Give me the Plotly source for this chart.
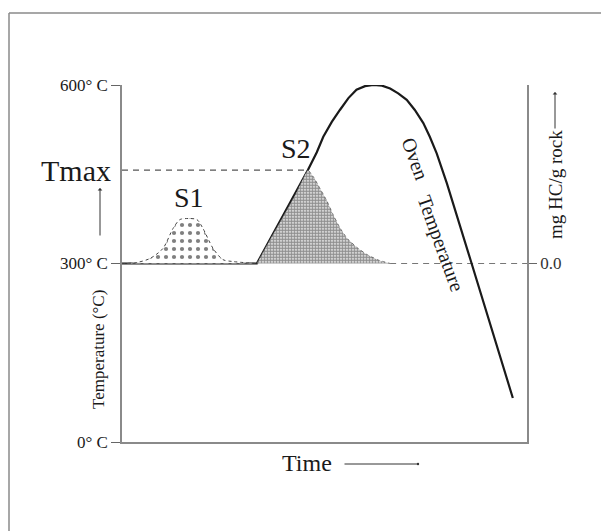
import plotly.graph_objects as go

time_oven = [0, 33.3, 45.9, 46.5, 48.1, 49.7, 51.8, 53.8, 55.9, 57.9, 60.0, 62.1,
             64.2, 66.2, 68.2, 70.3, 72.3, 74.4, 76.0, 77.7, 80.2, 86.1, 91.4, 96.5]
temp_oven = [300, 300, 457, 465, 487, 513, 538, 558, 578, 592, 598, 600,
             599, 594, 586, 575, 558, 536, 513, 485, 435, 305, 187, 74]

s1_time = [0, 3.5, 6.9, 10.1, 12.6, 14.3, 16.3, 18.5, 20.0, 22.5, 24.9, 27.4, 33.3]
s1_hc = [0, 0.05, 0.28, 0.84, 1.96, 2.46, 2.52, 2.46, 1.96, 0.84, 0.22, 0.11, 0]

s2_time = [33.3, 36.5, 39.8, 43.0, 45.9, 47.4, 48.9, 50.6, 52.1, 53.8, 55.6, 58.0, 60.5, 63.2, 66.2]
s2_hc = [0, 1.31, 2.63, 3.94, 5.23, 4.8, 4.2, 3.5, 2.75, 2.0, 1.4, 0.9, 0.5, 0.2, 0]

tmax_time = 45.9
tmax_temp = 457
baseline_temp = 300
time_end = 100

temp_ticks = [0, 300, 600]
temp_ticktext = ["0° C", "300° C", "600° C"]
hc_ticks = [0]
hc_ticktext = ["0.0"]

SERIF = "Liberation Serif, Times New Roman, serif"
INK = "#1a1a1a"
AXC = "#8a8a8a"

fig = go.Figure()

# S2 peak (dense stipple)
fig.add_trace(go.Scatter(
    x=s2_time, y=s2_hc, yaxis="y2", mode="lines",
    line=dict(color="#555", width=0.8, shape="spline", smoothing=0.4, dash="dot"),
    fill="tozeroy", fillcolor="rgba(0,0,0,0)",
    fillpattern=dict(shape=".", size=3, solidity=0.75, fgcolor="#222", bgcolor="white"),
    hoverinfo="skip", showlegend=False))

# S1 peak (sparse stipple)
fig.add_trace(go.Scatter(
    x=s1_time, y=s1_hc, yaxis="y2", mode="lines",
    line=dict(color="#444", width=1, shape="spline", smoothing=0.8, dash="dot"),
    fill="tozeroy", fillcolor="rgba(0,0,0,0)",
    fillpattern=dict(shape=".", size=8, solidity=0.22, fgcolor="#000", bgcolor="white"),
    hoverinfo="skip", showlegend=False))

# Tmax dashed guide
fig.add_trace(go.Scatter(
    x=[0, tmax_time], y=[tmax_temp, tmax_temp], mode="lines",
    line=dict(color="#555", width=1.2, dash="6px,5px"),
    hoverinfo="skip", showlegend=False))

# baseline dashed continuation to right axis
fig.add_trace(go.Scatter(
    x=[s2_time[-1], time_end], y=[baseline_temp, baseline_temp], mode="lines",
    line=dict(color="#777", width=1.2, dash="6px,5px"),
    hoverinfo="skip", showlegend=False))

# Oven temperature
fig.add_trace(go.Scatter(
    x=time_oven, y=temp_oven, mode="lines",
    line=dict(color=INK, width=2.2),
    hoverinfo="skip", showlegend=False))

# ---- layout ----
W, H = 601, 531
L, R, T, B = 122, 527, 85, 442


def px(x):
    return (x - L) / (R - L)


def py(y):
    return (B - y) / (B - T)


annotations = [
    dict(text="Tmax", x=px(113), y=py(170), xanchor="right",
         font=dict(family=SERIF, size=30, color=INK)),
    dict(text="", x=px(100), y=py(188), showarrow=True, ax=0, ay=49,
         arrowhead=1, arrowsize=0.8, arrowwidth=1, arrowcolor="#333"),
    dict(text="Temperature (°C)", x=px(98), y=py(350), textangle=-90,
         font=dict(family=SERIF, size=17, color=INK)),
    dict(text="S1", x=px(189), y=py(197), font=dict(family=SERIF, size=28, color=INK)),
    dict(text="S2", x=px(296), y=py(148), font=dict(family=SERIF, size=28, color=INK)),
    dict(text="Oven", x=px(415), y=py(158), textangle=70,
         font=dict(family=SERIF, size=20, color=INK)),
    dict(text="Temperature", x=px(441), y=py(243), textangle=70,
         font=dict(family=SERIF, size=20, color=INK)),
    dict(text="Time", x=px(307), y=py(463), font=dict(family=SERIF, size=24, color=INK)),
    dict(text="", x=px(418), y=py(464), showarrow=True, ax=-75, ay=0,
         arrowhead=6, arrowsize=0.6, arrowwidth=1, arrowcolor="#333"),
    dict(text="mg HC/g rock", x=px(555), y=py(185), textangle=-90,
         font=dict(family=SERIF, size=19, color=INK)),
    dict(text="", x=px(555), y=py(92), showarrow=True, ax=0, ay=38,
         arrowhead=1, arrowsize=0.8, arrowwidth=1, arrowcolor="#333"),
]
for a in annotations:
    a.setdefault("showarrow", False)
    a.setdefault("xanchor", "center")
    a.setdefault("yanchor", "middle")
    a["xref"] = "paper"
    a["yref"] = "paper"

shapes = [
    dict(type="line", xref="paper", yref="paper", x0=px(9), x1=px(640), y0=py(13), y1=py(13),
         line=dict(color="#8a8a8a", width=1.5)),
    dict(type="line", xref="paper", yref="paper", x0=px(9), x1=px(9), y0=py(13), y1=py(560),
         line=dict(color="#8a8a8a", width=1.5)),
]

fig.update_layout(
    width=W, height=H,
    margin=dict(l=L, r=W - R, t=T, b=H - B, pad=0),
    paper_bgcolor="white", plot_bgcolor="white",
    font=dict(family=SERIF, size=15, color=INK),
    showlegend=False,
    xaxis=dict(range=[0, time_end], showline=True, linecolor=AXC, linewidth=1.5,
               showticklabels=False, ticks="", showgrid=False, zeroline=False, fixedrange=True),
    yaxis=dict(range=[0, 600], showline=True, linecolor=AXC, linewidth=1.5,
               tickvals=temp_ticks, ticktext=temp_ticktext, ticks="outside", ticklen=9,
               tickcolor="#666", tickwidth=1.2, tickfont=dict(family=SERIF, size=17, color=INK),
               showgrid=False, zeroline=False, fixedrange=True),
    yaxis2=dict(range=[-10, 10], overlaying="y", side="right", showline=True,
                linecolor=AXC, linewidth=1.5, tickvals=hc_ticks, ticktext=hc_ticktext,
                ticks="outside", ticklen=8, tickcolor="#666", tickwidth=1.2,
                tickfont=dict(family=SERIF, size=17, color="#333"),
                showgrid=False, zeroline=False, fixedrange=True),
    annotations=annotations,
    shapes=shapes,
)

fig.write_html("out.html", config={"displayModeBar": False},
               post_script="document.body.style.margin='0';document.body.style.padding='0';")
